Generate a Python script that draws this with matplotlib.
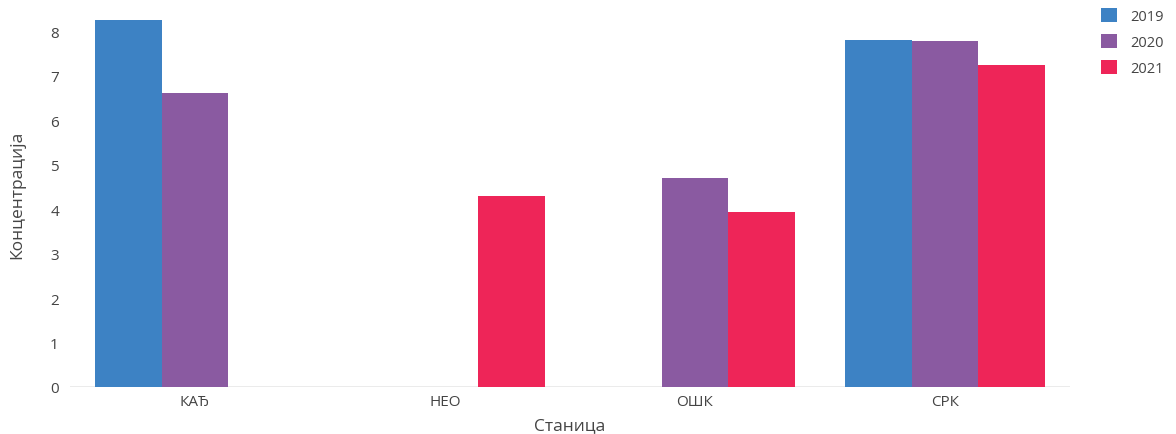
import matplotlib
matplotlib.use("Agg")
import matplotlib.pyplot as plt
import numpy as np

stations = ["КАЂ", "НЕО", "ОШК", "СРК"]
years = ["2019", "2020", "2021"]
val_2019 = [8.25, np.nan, np.nan, 7.80]
val_2020 = [6.62, np.nan, 4.70, 7.78]
val_2021 = [np.nan, 4.30, 3.94, 7.23]
colors = ["#3d82c4", "#8a5aa1", "#ee2558"]

plt.rcParams['font.family'] = ['Open Sans', 'DejaVu Sans']

fig = plt.figure(figsize=(11.76, 4.35), dpi=100)
ax = fig.add_axes([70/1176, 47/435, 1000/1176, 386/435])

x = np.arange(len(stations))
w = 0.8/3
series = [val_2019, val_2020, val_2021]
for i, (vals, c, yr) in enumerate(zip(series, colors, years)):
    ax.bar(x + (i-1)*w, vals, width=w, color=c, label=yr, zorder=3)

ax.set_xlim(-0.5, len(stations)-0.5)
ax.set_ylim(0, 8.68)
ax.set_yticks(range(0, 9))
ax.set_xticks(x)
ax.set_xticklabels(stations)
for s in ax.spines.values():
    s.set_visible(False)
ax.axhline(0, color="#e8e8e8", lw=1.2, zorder=2)
ax.tick_params(length=0, labelsize=11, colors="#444444", pad=8)
ax.tick_params(axis='x', pad=5)
ax.set_xlabel("Станица", fontsize=12.5, color="#444444", labelpad=6)
ax.set_ylabel("Концентрација", fontsize=12.5, color="#444444", labelpad=18)

fig.legend(loc="upper left", bbox_to_anchor=(1088/1176, 1.01), frameon=False,
           fontsize=10.5, handlelength=1.1, handleheight=1.1, handletextpad=0.9,
           labelspacing=0.7, labelcolor="#444444")

fig.savefig("out.png", dpi=100)
